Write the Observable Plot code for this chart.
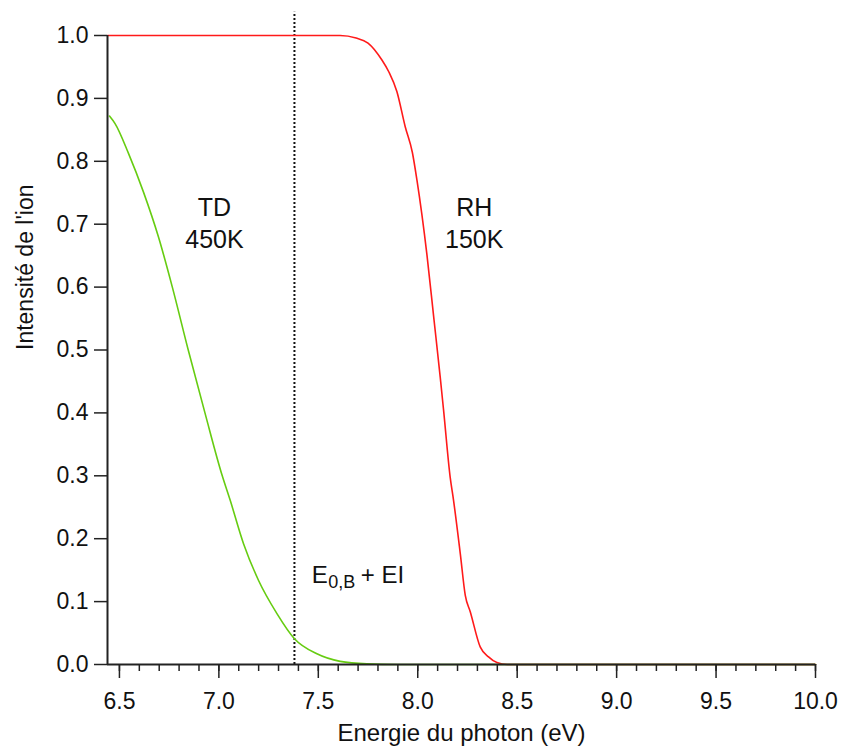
<!DOCTYPE html>
<html>
<head>
<meta charset="utf-8">
<script src="https://cdn.jsdelivr.net/npm/d3@7"></script>
<script src="https://cdn.jsdelivr.net/npm/@observablehq/plot@0.6"></script>
<style>
  html, body { margin: 0; padding: 0; background: #fff; }
  #chart { width: 842px; height: 747px; }
</style>
</head>
<body>
<div id="chart"></div>
<script>
// ---- data ----
const xDomain = [6.44, 10.0];
const yDomain = [0, 1];
const xMajorTicks = [6.5, 7.0, 7.5, 8.0, 8.5, 9.0, 9.5, 10.0];
const xMinorTicks = [6.5, 6.6, 6.7, 6.8, 6.9, 7.0, 7.1, 7.2, 7.3, 7.4, 7.5, 7.6, 7.7, 7.8, 7.9, 8.0,
  8.1, 8.2, 8.3, 8.4, 8.5, 8.6, 8.7, 8.8, 8.9, 9.0, 9.1, 9.2, 9.3, 9.4, 9.5, 9.6, 9.7, 9.8, 9.9, 10.0];
const yTicks = [0.0, 0.1, 0.2, 0.3, 0.4, 0.5, 0.6, 0.7, 0.8, 0.9, 1.0];

// RH 150K (red)
const rhEnergy = [6.44, 7.40, 7.61, 7.69, 7.75, 7.82, 7.855, 7.895, 7.937, 7.973, 7.996, 8.046, 8.080,
  8.113, 8.130, 8.163, 8.180, 8.214, 8.239, 8.264, 8.314, 8.356, 8.398, 8.45, 10.0];
const rhIntensity = [1.0, 1.0, 1.0, 0.996, 0.988, 0.961, 0.942, 0.911, 0.855, 0.814, 0.77, 0.652, 0.553,
  0.457, 0.404, 0.298, 0.261, 0.176, 0.11, 0.084, 0.028, 0.012, 0.003, 0.0, 0.0];

// TD 450K (green)
const tdEnergy = [6.45, 6.478, 6.545, 6.621, 6.696, 6.766, 6.846, 6.93, 7.017, 7.057, 7.124, 7.199,
  7.292, 7.38, 7.493, 7.61, 7.744, 7.9, 10.0];
const tdIntensity = [0.872, 0.86, 0.813, 0.751, 0.680, 0.600, 0.500, 0.400, 0.300, 0.261, 0.192, 0.134,
  0.081, 0.041, 0.017, 0.005, 0.001, 0.0, 0.0];

// threshold marker
const thresholdEnergy = 7.38;
const thresholdTop = 1.037;

// labels
const labels = [
  {x: 6.978, y: 0.704, text: "TD\n450K"},
  {x: 8.284, y: 0.704, text: "RH\n150K"}
];
const xLabel = "Energie du photon (eV)";
const yLabel = "Intensité de l'ion";

// ---- build ----
const rh = rhEnergy.map((e, i) => ({e, v: rhIntensity[i]}));
const td = tdEnergy.map((e, i) => ({e, v: tdIntensity[i]}));
const axisColor = "#222";
const font = "'Liberation Sans', Arial, sans-serif";

const chart = Plot.plot({
  width: 842,
  height: 747,
  marginLeft: 107,
  marginRight: 27,
  marginTop: 35,
  marginBottom: 83,
  style: {fontFamily: font, fontSize: "23px", color: "#111", background: "#fff", overflow: "visible"},
  x: {domain: xDomain, label: null},
  y: {domain: yDomain, label: null},
  marks: [
    Plot.ruleX([thresholdEnergy], {y1: 0, y2: thresholdTop, stroke: "#111", strokeWidth: 2, strokeDasharray: "2,2"}),
    Plot.line(rh, {x: "e", y: "v", stroke: "#ff1a1a", strokeWidth: 1.6, curve: "monotone-x"}),
    Plot.line(td, {x: "e", y: "v", stroke: "#66cc11", strokeWidth: 1.6, curve: "monotone-x"}),
    Plot.ruleX([xDomain[0]], {stroke: axisColor, strokeWidth: 2}),
    Plot.ruleY([yDomain[0]], {stroke: axisColor, strokeWidth: 2}),
    Plot.axisX({ticks: xMinorTicks, tickSize: 7, text: null, stroke: axisColor, strokeWidth: 1.5, label: null}),
    Plot.axisX({ticks: xMajorTicks, tickSize: 14, tickPadding: 14, tickFormat: d3.format(".1f"),
      stroke: axisColor, strokeWidth: 1.5, fill: "#111", fontSize: 23, label: null}),
    Plot.axisY({ticks: yTicks, tickSize: 13, tickPadding: 6, tickFormat: d3.format(".1f"),
      stroke: axisColor, strokeWidth: 1.5, fill: "#111", fontSize: 23, label: null}),
    Plot.text(labels, {x: "x", y: "y", text: "text", fontSize: 25, lineHeight: 1.3, fill: "#111",
      textAnchor: "middle", lineAnchor: "middle"}),
    Plot.text([{x: 7.467, y: 0.142, t: "E"}], {x: "x", y: "y", text: "t", fontSize: 24, fill: "#111",
      textAnchor: "start", lineAnchor: "middle"}),
    Plot.text([{x: 7.467, y: 0.130, t: "0,B"}], {x: "x", y: "y", text: "t", fontSize: 18, fill: "#111",
      textAnchor: "start", lineAnchor: "middle", dx: 16.5}),
    Plot.text([{x: 7.467, y: 0.142, t: "+ EI"}], {x: "x", y: "y", text: "t", fontSize: 24, fill: "#111",
      textAnchor: "start", lineAnchor: "middle", dx: 49}),
    Plot.text([xLabel], {frameAnchor: "bottom", dy: 69, fontSize: 24, fill: "#111", lineAnchor: "middle"}),
    Plot.text([yLabel], {frameAnchor: "left", dx: -82, rotate: -90, fontSize: 23, fill: "#111", lineAnchor: "middle"})
  ]
});
document.getElementById("chart").appendChild(chart);
</script>
</body>
</html>
